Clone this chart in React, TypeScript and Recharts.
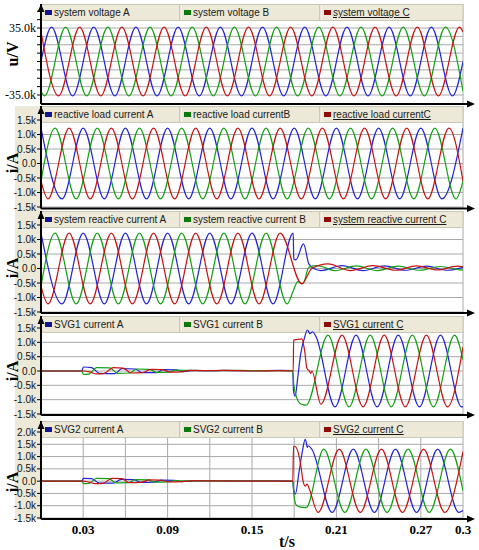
import React from "react";
import { CartesianGrid, Line, LineChart, XAxis, YAxis } from "recharts";

type Pt = [number, number];

// time axis (s)
const timeTicks = [0.03, 0.06, 0.09, 0.12, 0.15, 0.18, 0.21, 0.24, 0.27, 0.3];
const timeLabels = [0.03, 0.09, 0.15, 0.21, 0.27, 0.3];

// value axes (kV / kA)
const voltTicks = [-35, -26.25, -17.5, -8.75, 0, 8.75, 17.5, 26.25, 35, 43.75, 52.5];
const voltLabels = [-35, 35];
const ampTicks = [-1.5, -1, -0.5, 0, 0.5, 1, 1.5];
const ampTicksWide = [-1.5, -1, -0.5, 0, 0.5, 1, 1.5, 2];

// [t, value] at the extremes of each waveform
const voltA: Pt[] = [[0, 0], [0.0075, 36], [0.0225, -36], [0.0375, 36], [0.0525, -36], [0.0675, 36], [0.0825, -36], [0.0975, 36], [0.1125, -36], [0.1275, 36], [0.1425, -36], [0.1575, 36], [0.1725, -36], [0.1875, 36], [0.2025, -36], [0.2175, 36], [0.2325, -36], [0.2475, 36], [0.2625, -36], [0.2775, 36], [0.2925, -36], [0.3, 0]];
const voltB: Pt[] = [[0, -31], [0.0025, -36], [0.0175, 36], [0.0325, -36], [0.0475, 36], [0.0625, -36], [0.0775, 36], [0.0925, -36], [0.1075, 36], [0.1225, -36], [0.1375, 36], [0.1525, -36], [0.1675, 36], [0.1825, -36], [0.1975, 36], [0.2125, -36], [0.2275, 36], [0.2425, -36], [0.2575, 36], [0.2725, -36], [0.2875, 36], [0.3, -31]];
const voltC: Pt[] = [[0, 31], [0.0125, -36], [0.0275, 36], [0.0425, -36], [0.0575, 36], [0.0725, -36], [0.0875, 36], [0.1025, -36], [0.1175, 36], [0.1325, -36], [0.1475, 36], [0.1625, -36], [0.1775, 36], [0.1925, -36], [0.2075, 36], [0.2225, -36], [0.2375, 36], [0.2525, -36], [0.2675, 36], [0.2825, -36], [0.2975, 36], [0.3, 31]];

const loadA: Pt[] = [[0, 1.22], [0.015, -1.22], [0.03, 1.22], [0.045, -1.22], [0.06, 1.22], [0.075, -1.22], [0.09, 1.22], [0.105, -1.22], [0.12, 1.22], [0.135, -1.22], [0.15, 1.22], [0.165, -1.22], [0.18, 1.22], [0.195, -1.22], [0.21, 1.22], [0.225, -1.22], [0.24, 1.22], [0.255, -1.22], [0.27, 1.22], [0.285, -1.22], [0.3, 1.22]];
const loadB: Pt[] = [[0, -0.61], [0.01, 1.22], [0.025, -1.22], [0.04, 1.22], [0.055, -1.22], [0.07, 1.22], [0.085, -1.22], [0.1, 1.22], [0.115, -1.22], [0.13, 1.22], [0.145, -1.22], [0.16, 1.22], [0.175, -1.22], [0.19, 1.22], [0.205, -1.22], [0.22, 1.22], [0.235, -1.22], [0.25, 1.22], [0.265, -1.22], [0.28, 1.22], [0.295, -1.22], [0.3, -0.61]];
const loadC: Pt[] = [[0, -0.61], [0.005, -1.22], [0.02, 1.22], [0.035, -1.22], [0.05, 1.22], [0.065, -1.22], [0.08, 1.22], [0.095, -1.22], [0.11, 1.22], [0.125, -1.22], [0.14, 1.22], [0.155, -1.22], [0.17, 1.22], [0.185, -1.22], [0.2, 1.22], [0.215, -1.22], [0.23, 1.22], [0.245, -1.22], [0.26, 1.22], [0.275, -1.22], [0.29, 1.22], [0.3, -0.61]];

const sysA: Pt[] = [[0, 1.22], [0.015, -1.22], [0.03, 1.22], [0.045, -1.22], [0.06, 1.22], [0.075, -1.22], [0.09, 1.22], [0.105, -1.22], [0.12, 1.22], [0.135, -1.22], [0.15, 1.22], [0.165, -1.22], [0.1793, 1.22], [0.1797, 0.33], [0.1812, 0.3], [0.1866, 0.85], [0.1905, 0.15], [0.194, 0], [0.199, -0.07], [0.214, 0.1], [0.229, -0.07], [0.244, 0.09], [0.259, -0.06], [0.274, 0.08], [0.289, -0.06], [0.3, 0.04]];
const sysB: Pt[] = [[0, -0.61], [0.01, 1.22], [0.025, -1.22], [0.04, 1.22], [0.055, -1.22], [0.07, 1.22], [0.085, -1.22], [0.1, 1.22], [0.115, -1.22], [0.13, 1.22], [0.145, -1.22], [0.16, 1.22], [0.175, -1.22], [0.1797, -0.72], [0.1825, -0.45], [0.1862, -0.52], [0.1905, 0.05], [0.1965, 0.1], [0.209, -0.07], [0.224, 0.09], [0.239, -0.07], [0.254, 0.08], [0.269, -0.06], [0.284, 0.07], [0.299, -0.05], [0.3, -0.05]];
const sysC: Pt[] = [[0, -0.61], [0.005, -1.22], [0.02, 1.22], [0.035, -1.22], [0.05, 1.22], [0.065, -1.22], [0.08, 1.22], [0.095, -1.22], [0.11, 1.22], [0.125, -1.22], [0.14, 1.22], [0.155, -1.22], [0.17, 1.22], [0.1855, -0.53], [0.1925, 0], [0.204, 0.16], [0.22, -0.07], [0.236, 0.1], [0.252, -0.06], [0.267, 0.09], [0.282, -0.05], [0.296, 0.08], [0.3, 0.06]];

const svg1A: Pt[] = [[0, 0], [0.029, 0], [0.0302, 0.14], [0.036, 0.12], [0.0415, -0.08], [0.0525, -0.09], [0.0575, 0.08], [0.067, 0.07], [0.072, -0.06], [0.082, -0.06], [0.087, 0.05], [0.096, 0.04], [0.101, -0.02], [0.11, 0.02], [0.12, 0.01], [0.13, 0.02], [0.15, 0.01], [0.17, 0.02], [0.179, 0.01], [0.1795, -0.7], [0.1807, -0.88], [0.1825, -0.24], [0.1845, 0.56], [0.1872, 1.14], [0.1894, 1.43], [0.1913, 1.3], [0.193, 1.37], [0.1955, 1.2], [0.209, -1.25], [0.224, 1.25], [0.239, -1.25], [0.254, 1.25], [0.269, -1.25], [0.284, 1.25], [0.299, -1.25], [0.3, -1.24]];
const svg1B: Pt[] = [[0, 0], [0.029, 0], [0.0302, -0.12], [0.034, -0.11], [0.0395, 0.12], [0.049, 0.11], [0.0545, -0.08], [0.063, -0.07], [0.068, 0.07], [0.077, 0.06], [0.082, -0.05], [0.091, -0.04], [0.096, 0.03], [0.105, 0.02], [0.12, 0.01], [0.14, 0.02], [0.16, 0.01], [0.179, 0.01], [0.1797, -0.47], [0.1818, -0.93], [0.1845, -1.14], [0.1885, -1.19], [0.204, 1.25], [0.219, -1.25], [0.234, 1.25], [0.249, -1.25], [0.264, 1.25], [0.279, -1.25], [0.294, 1.25], [0.3, 0.39]];
const svg1C: Pt[] = [[0, 0], [0.03, 0], [0.0345, -0.03], [0.039, -0.1], [0.0445, -0.09], [0.0515, 0.12], [0.0585, 0.1], [0.064, -0.07], [0.072, -0.06], [0.078, 0.06], [0.086, 0.05], [0.092, -0.04], [0.1, -0.03], [0.106, 0.02], [0.115, 0.01], [0.13, 0.02], [0.15, 0], [0.17, 0.01], [0.1793, 0], [0.1796, 1.08], [0.182, 1.1], [0.1854, 1.12], [0.1875, 0.68], [0.189, 0.1], [0.1905, 0.02], [0.1918, -0.08], [0.1925, 0], [0.199, -1.16], [0.214, 1.25], [0.229, -1.25], [0.244, 1.25], [0.259, -1.25], [0.274, 1.25], [0.289, -1.25], [0.3, 0.84]];

const svg2A: Pt[] = [[0, 0], [0.029, 0], [0.0302, 0.11], [0.036, 0.1], [0.0415, -0.08], [0.0515, -0.08], [0.057, 0.07], [0.066, 0.06], [0.071, -0.05], [0.08, -0.04], [0.086, 0.04], [0.095, 0.03], [0.1, -0.02], [0.11, 0.01], [0.13, 0.02], [0.15, 0.01], [0.17, 0.01], [0.179, 0], [0.1795, -0.3], [0.1808, -0.53], [0.1835, 0.4], [0.1858, 1.2], [0.1878, 1.7], [0.1885, 1.6], [0.1892, 1.37], [0.19, 1.44], [0.1925, 1.3], [0.207, -1.27], [0.222, 1.3], [0.237, -1.27], [0.252, 1.3], [0.267, -1.27], [0.282, 1.3], [0.297, -1.27], [0.3, -1.2]];
const svg2B: Pt[] = [[0, 0], [0.029, 0], [0.0302, -0.1], [0.034, -0.09], [0.0395, 0.11], [0.048, 0.1], [0.0535, -0.07], [0.062, -0.06], [0.067, 0.06], [0.076, 0.05], [0.081, -0.04], [0.09, -0.03], [0.095, 0.02], [0.105, 0.01], [0.13, 0.01], [0.179, 0], [0.1797, -0.5], [0.181, -0.93], [0.1835, -1.05], [0.1885, -1.08], [0.201, 1.3], [0.216, -1.27], [0.231, 1.3], [0.246, -1.27], [0.261, 1.3], [0.276, -1.27], [0.291, 1.3], [0.3, -0.4]];
const svg2C: Pt[] = [[0, 0], [0.03, 0], [0.034, -0.04], [0.0385, -0.1], [0.044, -0.09], [0.0505, 0.11], [0.0575, 0.1], [0.063, -0.06], [0.071, -0.05], [0.077, 0.05], [0.085, 0.04], [0.091, -0.03], [0.1, -0.02], [0.108, 0.02], [0.12, 0.01], [0.15, 0], [0.179, 0], [0.1795, 1.42], [0.181, 1.4], [0.1825, 1.23], [0.1845, 0.7], [0.1865, -0.05], [0.1878, -0.2], [0.1892, -0.12], [0.1905, -0.28], [0.197, -1.27], [0.212, 1.3], [0.227, -1.27], [0.242, 1.3], [0.257, -1.27], [0.272, 1.3], [0.287, -1.27], [0.3, 1.2]];

const BLUE = "#2222d8";
const GREEN = "#12a012";
const RED = "#c81212";
const MARKS = ["#14148c", "#0a7a0a", "#8c0a0a"];
const LINE_COLORS = [BLUE, GREEN, RED];

type Panel = {
  id: string;
  title: string;
  titleY: number;
  top: number;
  bottom: number;
  domain: [number, number];
  ticks: number[];
  serifTicks?: boolean;
  names: string[];
  series: Pt[][];
};

const panels: Panel[] = [
  { id: "p1", title: "u/V", titleY: 54, top: 4, bottom: 104, domain: [-44.4, 60.1], ticks: voltTicks, serifTicks: true,
    names: ["system voltage A", "system voltage B", "system voltage C"], series: [voltA, voltB, voltC] },
  { id: "p2", title: "i/A", titleY: 163, top: 106, bottom: 208.5, domain: [-1.552, 1.983], ticks: ampTicks,
    names: ["reactive load current A", "reactive load currentB", "reactive load currentC"], series: [loadA, loadB, loadC] },
  { id: "p3", title: "i/A", titleY: 268, top: 211, bottom: 313, domain: [-1.534, 1.983], ticks: ampTicks,
    names: ["system reactive current A", "system reactive current B", "system reactive current C"], series: [sysA, sysB, sysC] },
  { id: "p4", title: "i/A", titleY: 371, top: 316, bottom: 415, domain: [-1.535, 1.919], ticks: ampTicks,
    names: ["SVG1 current A", "SVG1 current B", "SVG1 current C"], series: [svg1A, svg1B, svg1C] },
  { id: "p5", title: "i/A", titleY: 482, top: 421, bottom: 519, domain: [-1.541, 2.448], ticks: ampTicksWide,
    names: ["SVG2 current A", "SVG2 current B", "SVG2 current C"], series: [svg2A, svg2B, svg2C] },
];

const toRows = (pts: Pt[]) => pts.map(([t, v]) => ({ t, v }));

const ampFormat = (v: number) => (v === 0 ? "0.0" : `${v.toFixed(1)}k`);
const voltFormat = (v: number) => (voltLabels.includes(v) ? `${v.toFixed(1)}k` : "");
const timeFormat = (v: number) => (timeLabels.includes(v) ? String(v) : "");

const CELLS = [41, 180, 320, 463];
const AXIS_X = 41;
const PLOT_RIGHT = 463;

function LegendBar({ names }: { names: string[] }) {
  return (
    <g>
      <rect x={41} y={0.5} width={422} height={16} fill="#ECE9D8" stroke="#CBC7B8" />
      {names.map((name, i) => (
        <g key={name}>
          {i > 0 && <line x1={CELLS[i]} x2={CELLS[i]} y1={1} y2={16} stroke="#ACA899" />}
          {i > 0 && <line x1={CELLS[i] + 1} x2={CELLS[i] + 1} y1={1} y2={16} stroke="#FFFFFF" />}
          <rect x={CELLS[i] + 4} y={6} width={7} height={5} fill={MARKS[i]} />
          <text
            x={CELLS[i] + 13}
            y={12}
            fontSize={10}
            fontFamily="'Liberation Sans', Arial, sans-serif"
            fill="#1a1a1a"
            textDecoration={i === 2 ? "underline" : undefined}
          >
            {name}
          </text>
        </g>
      ))}
    </g>
  );
}

function PanelChart({ p, last }: { p: Panel; last: boolean }) {
  const plotH = p.bottom - p.top;
  const xh = last ? 31 : 7;
  const tickFont = p.serifTicks
    ? { fontSize: 12, fontFamily: "'Liberation Serif', 'Times New Roman', serif", fill: "#000" }
    : { fontSize: 10, fontFamily: "'Liberation Sans', Arial, sans-serif", fill: "#111" };
  return (
    <div style={{ position: "absolute", left: 0, top: p.top }}>
      <LineChart width={479} height={plotH + xh} margin={{ top: 0, right: 16, bottom: 0, left: 0 }}>
        <CartesianGrid stroke="#a9a9a9" strokeWidth={1} />
        {p.series.map((pts, i) => (
          <Line
            key={p.names[i]}
            data={toRows(pts)}
            dataKey="v"
            type="monotone"
            stroke={LINE_COLORS[i]}
            strokeWidth={1.2}
            dot={false}
            activeDot={false}
            isAnimationActive={false}
          />
        ))}
        <LegendBar names={p.names} />
        <text
          x={12}
          y={p.titleY - p.top}
          transform={`rotate(-90 12 ${p.titleY - p.top})`}
          textAnchor="middle"
          dominantBaseline="central"
          fontFamily="'Liberation Serif', 'Times New Roman', serif"
          fontWeight="bold"
          fontSize={16}
          fill="#000"
        >
          {p.title}
        </text>
        {last && (
          <text x={287} y={120} textAnchor="middle" dominantBaseline="central"
            fontFamily="'Liberation Serif', 'Times New Roman', serif" fontWeight="bold" fontSize={16} fill="#000">
            t/s
          </text>
        )}
        <XAxis
          type="number"
          dataKey="t"
          domain={[0, 0.3]}
          ticks={timeTicks}
          interval={0}
          allowDataOverflow
          height={xh}
          tickFormatter={timeFormat}
          tick={last ? { fontSize: 13, fontWeight: "bold", fontFamily: "'Liberation Serif', 'Times New Roman', serif", fill: "#000" } : false}
          tickLine={false}
          tickSize={0}
          tickMargin={6}
          axisLine={{ stroke: "#000", strokeWidth: 2 }}
        />
        <YAxis
          type="number"
          domain={p.domain}
          ticks={p.ticks}
          interval={0}
          allowDataOverflow
          width={41}
          tickFormatter={p.serifTicks ? voltFormat : ampFormat}
          tick={tickFont}
          tickLine={{ stroke: "#000" }}
          tickSize={4}
          tickMargin={1}
          axisLine={{ stroke: "#000", strokeWidth: 2 }}
        />
        {/* axis arrowheads */}
        <path d={`M${AXIS_X},0 L${AXIS_X - 3.5},8 L${AXIS_X + 3.5},8 Z`} fill="#000" />
        <path d={`M${PLOT_RIGHT},${plotH} L${PLOT_RIGHT + 5},${plotH}`} stroke="#000" strokeWidth={2} />
        <path
          d={`M${PLOT_RIGHT + 4},${plotH - 3.5} L${PLOT_RIGHT + 12},${plotH} L${PLOT_RIGHT + 4},${plotH + 3.5} Z`}
          fill="#000"
        />
      </LineChart>
    </div>
  );
}

export default function App() {
  return (
    <div style={{ position: "absolute", left: 0, top: 0, width: 479, height: 550, background: "#fff", overflow: "hidden" }}>
      <div style={{ position: "absolute", left: 15, top: 106, width: 26, height: 414, background: "#ECE9D8" }} />
      {panels.map((p, i) => (
        <PanelChart key={p.id} p={p} last={i === panels.length - 1} />
      ))}
    </div>
  );
}
